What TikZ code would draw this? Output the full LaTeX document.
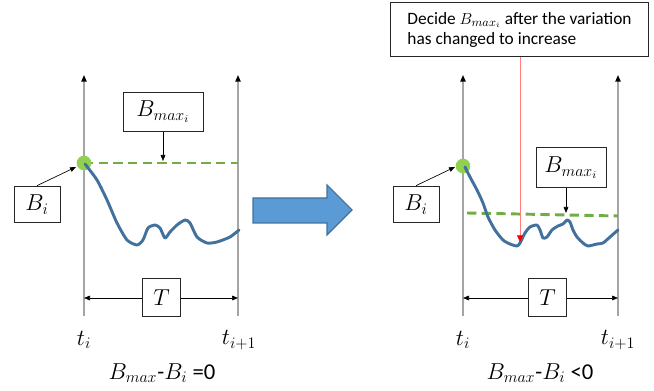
\documentclass[tikz,border=0pt]{standalone}
\usepackage{fontspec}
\setmainfont{Carlito}
\usepackage{tikz}
\usetikzlibrary{arrows.meta}
\tikzset{>=Stealth}
\usepackage{xcolor}
\definecolor{axisgray}{RGB}{165,165,165}
\definecolor{curveblue}{RGB}{65,113,156}
\definecolor{dashgreen}{RGB}{112,173,71}
\definecolor{dotgreen}{RGB}{146,208,80}
\definecolor{arrowblue}{RGB}{91,155,213}
\definecolor{markred}{RGB}{255,125,125}
\tikzset{
  axisline/.style={axisgray, line width=1pt, -{Triangle[length=5pt,width=4pt,black]}},
  ptr/.style={black, line width=0.5pt, -{Triangle[length=4.5pt,width=3.5pt]}},
  labelbox/.style={draw=black!85, line width=0.75pt, fill=white, inner sep=1pt,
    font=\fontsize{17}{19}\selectfont},
  curve/.style={curveblue, line width=2.2pt, line cap=round, line join=round},
  levelline/.style={dashgreen, line width=2.2pt, dash pattern=on 7pt off 4pt},
  tlabel/.style={font=\fontsize{17}{19}\selectfont},
}

\begin{document}
\begin{tikzpicture}[x=0.75pt, y=-0.75pt]
            \useasboundingbox (0,0) rectangle (654,391);
            % ----- left panel: B_max - B_i = 0
            \coordinate (la0) at (84,316);
            \coordinate (la1) at (84,75);
            \coordinate (lb0) at (238,316);
            \coordinate (lb1) at (238,75);
            \draw[axisline] (la0) -- (la1);
            \draw[axisline] (lb0) -- (lb1);
            % level B_max at start
            \coordinate (ldot) at (84,163);
            \coordinate (lend) at (238,163);
            \draw[levelline] (ldot) -- (lend);
            \fill[dotgreen] (ldot) circle (5.5pt);
            \draw[curve] plot[smooth, tension=0.4] coordinates {(85,164) (97,180) (107,200) (117,223)
                (127,240) (137,245) (143,240) (148,228) (155,225) (160,228) (165,238) (170,232)
                (177,225) (185,220) (190,223) (197,237) (207,243) (217,242) (230,237) (239,230)};
            % boxes and pointers
            \node[labelbox, minimum width=60pt, minimum height=29pt] (lbmax) at (163,112) {$B_{max_i}$};
            \coordinate (lbmaxpt) at (163,161);
            \draw[ptr] (lbmax.south) -- (lbmaxpt);
            \node[labelbox, minimum width=34.5pt, minimum height=27.5pt] (lbi) at (37,204.5) {$B_i$};
            \coordinate (ldotpt) at (76,167);
            \draw[ptr] (lbi.north) -- (ldotpt);
            % period T
            \node[labelbox, minimum width=29pt, minimum height=28.5pt] (lT) at (161.5,298) {$T$};
            \draw[ptr] (lT.west) -- (lT.west -| la0);
            \draw[ptr] (lT.east) -- (lT.east -| lb0);
            \node[tlabel] (lti) at (84,340) {$t_i$};
            \node[tlabel] (ltn) at (239,340) {$t_{i+1}$};
            \node[tlabel] (lres) at (162,373) {$B_{max}$-$B_i$ =0};
            % big arrow between panels
            \draw[fill=arrowblue, draw=curveblue, line width=0.8pt]
                (253,198) -- (327,198) -- (327,185) -- (352,210) -- (327,235) -- (327,223) -- (253,223) -- cycle;
            % ----- right panel: B_max - B_i < 0
            \coordinate (ra0) at (463,316);
            \coordinate (ra1) at (463,75);
            \coordinate (rb0) at (618,316);
            \coordinate (rb1) at (618,75);
            \draw[axisline] (ra0) -- (ra1);
            \draw[axisline] (rb0) -- (rb1);
            \coordinate (rlev0) at (467,213);
            \coordinate (rlev1) at (618,216);
            \draw[levelline] (rlev0) -- (rlev1);
            \coordinate (rdot) at (463,166);
            \fill[dotgreen] (rdot) circle (5.5pt);
            \draw[curve] plot[smooth, tension=0.4] coordinates {(465,167) (470,177) (477,190) (483,203)
                (488,217) (495,230) (503,240) (510,244) (517,246) (520,243) (525,233) (530,227)
                (537,225) (540,230) (543,238) (547,237) (552,230) (558,226) (563,224) (567,220)
                (570,222) (573,230) (577,237) (583,243) (588,246) (597,244) (603,243) (610,237) (618,230)};
            % note on when B_max is decided
            \node[draw=black!85, line width=0.75pt, fill=white, minimum width=193pt, minimum height=41pt,
                align=left, font=\fontsize{13}{15}\selectfont] (note) at (519.5,29.5)
                {Decide $B_{max_i}$ after the variation\\has changed to increase};
            \coordinate (redpt) at (520,242);
            \draw[markred, line width=0.6pt, -{Triangle[length=5pt,width=4.5pt,red]}] (note.south -| redpt) -- (redpt);
            \node[labelbox, minimum width=52.5pt, minimum height=30pt] (rbmax) at (571,168) {$B_{max_i}$};
            \coordinate (rbmaxpt) at (566,213);
            \draw[ptr] (rbmax.south -| rbmaxpt) -- (rbmaxpt);
            \node[labelbox, minimum width=34.5pt, minimum height=27.5pt] (rbi) at (416,204.5) {$B_i$};
            \coordinate (rdotpt) at (455,167);
            \draw[ptr] (rbi.north) -- (rdotpt);
            \node[labelbox, minimum width=29pt, minimum height=28.5pt] (rT) at (547.5,298) {$T$};
            \draw[ptr] (rT.west) -- (rT.west -| ra0);
            \draw[ptr] (rT.east) -- (rT.east -| rb0);
            \node[tlabel] (rti) at (463,340) {$t_i$};
            \node[tlabel] (rtn) at (618,340) {$t_{i+1}$};
            \node[tlabel] (rres) at (540,373) {$B_{max}$-$B_i$ <0};
        \end{tikzpicture}
\end{document}
